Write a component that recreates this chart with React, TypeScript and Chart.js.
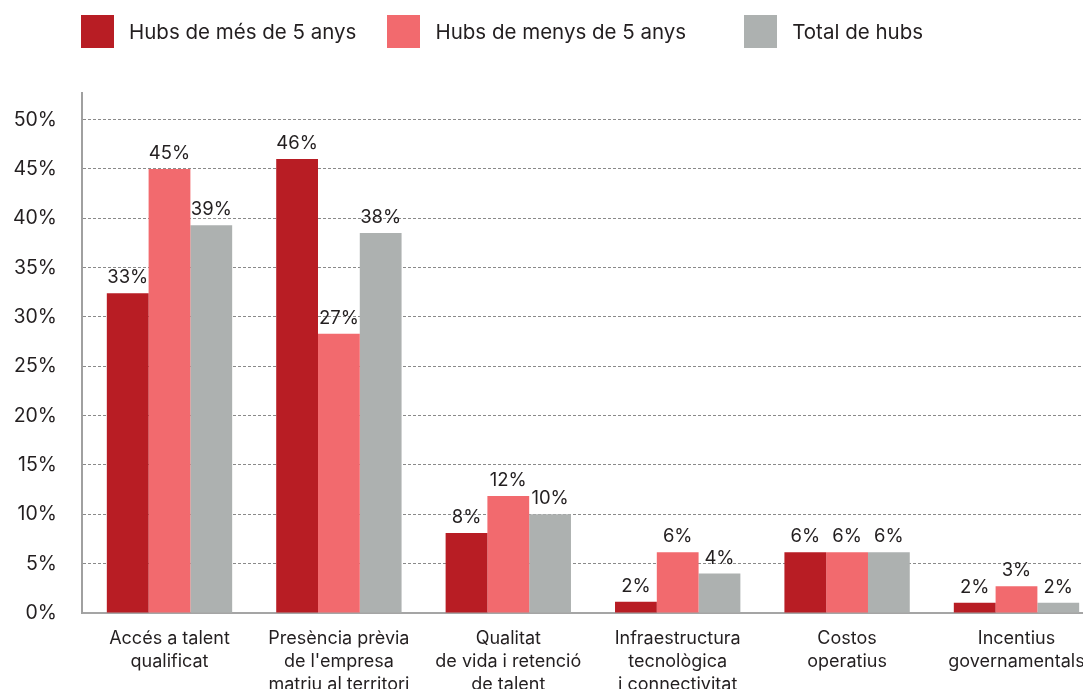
import React, { useEffect, useRef } from "react";
import { Chart, registerables } from "chart.js";

Chart.register(...registerables);

const categories: string[][] = [
  ["Accés a talent", "qualificat"],
  ["Presència prèvia", "de l'empresa", "matriu al territori"],
  ["Qualitat", "de vida i retenció", "de talent"],
  ["Infraestructura", "tecnològica", "i connectivitat"],
  ["Costos", "operatius"],
  ["Incentius", "governamentals"],
];

const seriesNames = ["Hubs de més de 5 anys", "Hubs de menys de 5 anys", "Total de hubs"];
const seriesColors = ["#B81D24", "#F26A6E", "#ADB1B0"];

const olderHubs = [32.4, 46.0, 8.1, 1.15, 6.15, 1.05];
const newerHubs = [45.0, 28.3, 11.85, 6.15, 6.15, 2.7];
const totalHubs = [39.3, 38.5, 10.0, 4.0, 6.15, 1.05];

const olderLabels = ["33%", "46%", "8%", "2%", "6%", "2%"];
const newerLabels = ["45%", "27%", "12%", "6%", "6%", "3%"];
const totalLabels = ["39%", "38%", "10%", "4%", "6%", "2%"];

const yTicks = [0, 5, 10, 15, 20, 25, 30, 35, 40, 45, 50];

const seriesValues = [olderHubs, newerHubs, totalHubs];
const seriesLabels = [olderLabels, newerLabels, totalLabels];

const FONT = "Inter, 'Noto Sans', sans-serif";
const TEXT = "#231F20";

const valueLabelPlugin = {
  id: "valueLabels",
  afterDatasetsDraw(chart: any) {
    const ctx = chart.ctx;
    ctx.save();
    ctx.font = `18.5px ${FONT}`;
    ctx.fillStyle = TEXT;
    ctx.textAlign = "center";
    ctx.textBaseline = "alphabetic";
    chart.data.datasets.forEach((_: any, di: number) => {
      const meta = chart.getDatasetMeta(di);
      meta.data.forEach((el: any, i: number) => {
        ctx.fillText(seriesLabels[di][i], el.x, el.y - 10);
      });
    });
    ctx.restore();
  },
};

export default function App() {
  const ref = useRef<HTMLCanvasElement | null>(null);

  useEffect(() => {
    document.body.style.margin = "0";
    if (!ref.current) return;
    const chart = new Chart(ref.current, {
      type: "bar",
      data: {
        datasets: seriesNames.map((name, si) => ({
          label: name,
          data: seriesValues[si].map((v, i) => ({ x: i, y: v })),
          backgroundColor: seriesColors[si],
          borderWidth: 0,
          categoryPercentage: 0.74,
          barPercentage: 1.0,
        })),
      },
      options: {
        responsive: false,
        animation: false,
        devicePixelRatio: 1,
        layout: { padding: { top: 93, left: 0, right: 0, bottom: 0 } },
        plugins: {
          legend: { display: false },
          tooltip: { enabled: false },
        },
        scales: {
          x: {
            type: "linear",
            offset: false,
            min: -0.5165,
            max: 5.3926,
            grid: { display: false, offset: false },
            border: { display: true, color: "#A5A5A5", width: 2 },
            afterBuildTicks: (s: any) => {
              s.ticks = categories.map((_, i) => ({ value: i }));
            },
            afterFit: (s: any) => {
              s.height = 76;
              s.paddingLeft = 0;
              s.paddingRight = 0;
            },
            ticks: {
              autoSkip: false,
              maxRotation: 0,
              minRotation: 0,
              padding: 6,
              color: TEXT,
              font: { family: FONT, size: 18, lineHeight: 1.28 },
              callback: (v: any) => categories[Math.round(Number(v))] ?? "",
            },
          },
          y: {
            min: 0,
            max: 52.7,
            afterBuildTicks: (s: any) => {
              s.ticks = yTicks.map((v) => ({ value: v }));
            },
            afterFit: (s: any) => {
              s.width = 82;
            },
            grid: {
              drawTicks: false,
              lineWidth: 1,
              color: (c: any) => (c.tick && c.tick.value === 0 ? "rgba(0,0,0,0)" : "#8A8A8A"),
            },
            border: { display: true, color: "#A0A0A0", width: 2, dash: [3, 2] },
            ticks: {
              padding: 25,
              color: TEXT,
              font: { family: FONT, size: 19.5 },
              callback: (v: any) => `${v}%`,
            },
          },
        },
      },
      plugins: [valueLabelPlugin],
    } as any);
    return () => chart.destroy();
  }, []);

  const legendGaps = [31, 58, 0];

  return (
    <div style={{ position: "relative", width: 1083, height: 689, background: "#fff" }}>
      <canvas ref={ref} width={1083} height={689} style={{ position: "absolute", left: 0, top: 0 }} />
      <div
        style={{
          position: "absolute",
          left: 81,
          top: 15,
          display: "flex",
          alignItems: "center",
          fontFamily: FONT,
          fontSize: 20.5,
          color: TEXT,
          whiteSpace: "nowrap",
        }}
      >
        {seriesNames.map((name, i) => (
          <div key={name} style={{ display: "flex", alignItems: "center", marginRight: legendGaps[i] }}>
            <span style={{ display: "inline-block", width: 33, height: 33, background: seriesColors[i], marginRight: 15 }} />
            <span>{name}</span>
          </div>
        ))}
      </div>
    </div>
  );
}
